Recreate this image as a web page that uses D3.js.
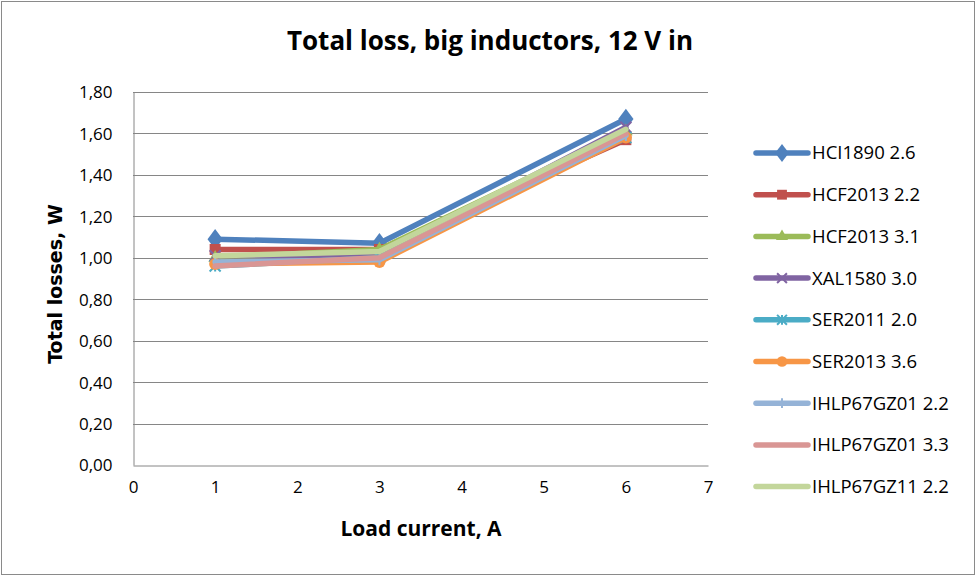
<!DOCTYPE html>
<html><head><meta charset="utf-8">
<script src="https://cdn.jsdelivr.net/npm/d3@7"></script>
<style>body{margin:0;background:#fff}svg{display:block}</style>
</head><body>
<svg id="c" width="977" height="577"></svg>
<script>
const xValues = [1, 3, 6];
const seriesNames = ["HCI1890 2.6","HCF2013 2.2","HCF2013 3.1","XAL1580 3.0","SER2011 2.0","SER2013 3.6","IHLP67GZ01 2.2","IHLP67GZ01 3.3","IHLP67GZ11 2.2"];
const hci1890_26   = [1.09, 1.07, 1.67];
const hcf2013_22   = [1.04, 1.04, 1.57];
const hcf2013_31   = [1.00, 1.04, 1.61];
const xal1580_30   = [1.01, 1.01, 1.63];
const ser2011_20   = [0.96, 1.00, 1.58];
const ser2013_36   = [0.97, 0.98, 1.58];
const ihlp01_22    = [0.98, 0.99, 1.59];
const ihlp01_33    = [0.96, 1.00, 1.60];
const ihlp11_22    = [1.01, 1.03, 1.62];
const seriesValues = [hci1890_26, hcf2013_22, hcf2013_31, xal1580_30, ser2011_20, ser2013_36, ihlp01_22, ihlp01_33, ihlp11_22];
const yTicks = [0, 0.2, 0.4, 0.6, 0.8, 1.0, 1.2, 1.4, 1.6, 1.8];
const xTicks = [0, 1, 2, 3, 4, 5, 6, 7];

const colors = ["#4F81BD","#C0504D","#9BBB59","#8064A2","#4BACC6","#F79646","#95B3D7","#D99694","#C3D69B"];
const markers = ["diamond","square","triangle","x","star","circle","plus","none","none"];

const svg = d3.select("#c");
svg.append("rect").attr("x",1.5).attr("y",1.5).attr("width",973).attr("height",573)
  .attr("fill","#fff").attr("stroke","#8a8a8a").attr("stroke-width",1);

const L=133, R=708, T=92, B=465;
const x = d3.scaleLinear().domain([0,7]).range([L,R]);
const y = d3.scaleLinear().domain([0,1.8]).range([B,T]);

// grid
svg.append("g").selectAll("line").data(yTicks.filter(d=>d>0)).join("line")
  .attr("x1",L).attr("x2",R).attr("y1",d=>Math.round(y(d))+0.5).attr("y2",d=>Math.round(y(d))+0.5)
  .attr("stroke","#868686").attr("stroke-width",1);

// axes
const fmt = d => d3.format(".2f")(d).replace(".", ",");
const yAxis = svg.append("g").attr("transform",`translate(${L+0.5},0)`)
  .call(d3.axisLeft(y).tickValues(yTicks).tickFormat(fmt).tickSize(0).tickPadding(21));
const xAxis = svg.append("g").attr("transform",`translate(0,${B+0.5})`)
  .call(d3.axisBottom(x).tickValues(xTicks).tickFormat(d3.format("d")).tickSize(0).tickPadding(27));
[yAxis,xAxis].forEach(a=>{
  a.select(".domain").attr("stroke","#868686");
  a.selectAll("text").attr("font-family","'Open Sans', sans-serif").attr("font-size",17).attr("fill","#000");
});
yAxis.selectAll("text").attr("dy","0.35em");
xAxis.selectAll("text").attr("dy","0em");

// titles
svg.append("text").attr("x",490).attr("y",50).attr("text-anchor","middle")
  .attr("font-family","'Open Sans', sans-serif").attr("font-weight","bold").attr("font-size",26)
  .text("Total loss, big inductors, 12 V in");
svg.append("text").attr("x",421).attr("y",536).attr("text-anchor","middle")
  .attr("font-family","'Open Sans', sans-serif").attr("font-weight","bold").attr("font-size",21)
  .text("Load current, A");
svg.append("text").attr("transform","translate(62,284) rotate(-90)").attr("text-anchor","middle")
  .attr("font-family","'DejaVu Sans', sans-serif").attr("font-weight","bold").attr("font-size",19)
  .text("Total losses, W");

function drawMarker(g, type, cx, cy, color, s){
  s = s || 1;
  if(type==="diamond"){
    g.append("path").attr("d",d3.symbol(d3.symbolDiamond, 120*s)()).attr("transform",`translate(${cx},${cy}) scale(1.3,1)`).attr("fill",color);
  } else if(type==="square"){
    const w=11*Math.sqrt(s);
    g.append("rect").attr("x",cx-w/2).attr("y",cy-w/2).attr("width",w).attr("height",w).attr("fill",color);
  } else if(type==="triangle"){
    g.append("path").attr("d",d3.symbol(d3.symbolTriangle, 80*s)()).attr("transform",`translate(${cx},${cy})`).attr("fill",color);
  } else if(type==="x"){
    const r=5.5*Math.sqrt(s);
    g.append("path").attr("d",`M${cx-r},${cy-r}L${cx+r},${cy+r}M${cx-r},${cy+r}L${cx+r},${cy-r}`).attr("stroke",color).attr("stroke-width",2);
  } else if(type==="star"){
    const r=5.5*Math.sqrt(s);
    g.append("path").attr("d",`M${cx-r},${cy-r}L${cx+r},${cy+r}M${cx-r},${cy+r}L${cx+r},${cy-r}M${cx},${cy-r}L${cx},${cy+r}`).attr("stroke",color).attr("stroke-width",2);
  } else if(type==="circle"){
    g.append("circle").attr("cx",cx).attr("cy",cy).attr("r",6*Math.sqrt(s)).attr("fill",color);
  } else if(type==="plus"){
    const r=5.5*Math.sqrt(s);
    g.append("path").attr("d",`M${cx},${cy-r}L${cx},${cy+r}`).attr("stroke",color).attr("stroke-width",2);
  }
}

const line = d3.line().x(d=>x(d[0])).y(d=>y(d[1]));
seriesValues.forEach((vals,i)=>{
  const g = svg.append("g");
  const pts = xValues.map((xv,j)=>[xv, vals[j]]);
  g.append("path").datum(pts).attr("d",line).attr("fill","none").attr("stroke",colors[i])
    .attr("stroke-width",5.5).attr("stroke-linejoin","round").attr("stroke-linecap","round");
  pts.forEach(p=>drawMarker(g, markers[i], x(p[0]), y(p[1]), colors[i]));
});

// legend
const legY0 = 153, legStep = 41.7;
seriesNames.forEach((name,i)=>{
  const g = svg.append("g");
  const yy = legY0 + i*legStep;
  g.append("line").attr("x1",756).attr("x2",808).attr("y1",yy).attr("y2",yy)
    .attr("stroke",colors[i]).attr("stroke-width",5.5).attr("stroke-linecap","round");
  drawMarker(g, markers[i], 782, yy, colors[i], 0.8);
  g.append("text").attr("x",812).attr("y",yy).attr("dy","0.35em")
    .attr("font-family","'Open Sans', sans-serif").attr("font-size",18.5).text(name);
});
</script>
</body></html>
